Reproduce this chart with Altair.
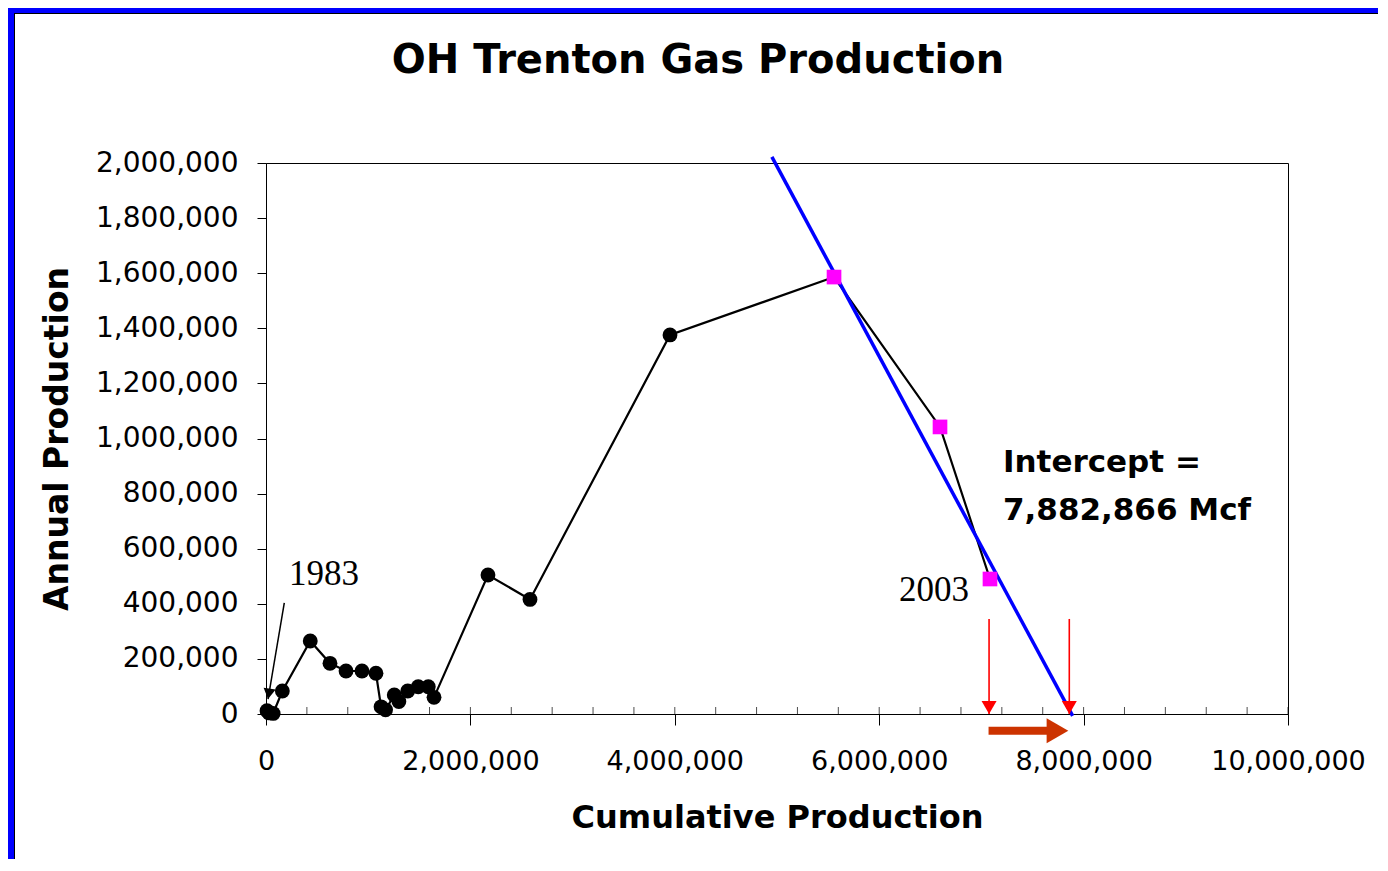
import altair as alt
import pandas as pd

# ---------------- data ----------------
cum_prod = [10000, 30000, 70000, 160000, 433000, 626000, 783000, 939000,
            1076000, 1126000, 1170000, 1255000, 1300000, 1387000, 1490000,
            1588000, 1644000, 2172000, 2583000, 3953000, 5558000, 6595000,
            7084000]
annual_prod = [12000, 4000, 2000, 83500, 265000, 184000, 156000, 156000,
               148000, 26000, 15000, 69000, 45000, 83500, 99000, 99000,
               60500, 504500, 416000, 1376000, 1586000, 1042000, 490000]
in_fit = [False] * 20 + [True, True, True]

fit_x = [4950000, 7893000]
fit_y = [2022000, -7000]

x_ticks = [0, 2000000, 4000000, 6000000, 8000000, 10000000]
y_ticks = [0, 200000, 400000, 600000, 800000, 1000000, 1200000, 1400000,
           1600000, 1800000, 2000000]
minor_x_ticks = [400000 * k for k in range(26)]

red_arrow_x = [7075000, 7860000]
red_arrow_top = [345000, 345000]

# annotations (data coordinates)
label_1983 = {"x": 225000, "y": 468000, "t": "1983"}
arrow_1983 = {"x": 179000, "y": 403000, "x2": 20000, "y2": 54000}
label_2003 = {"x": 6879000, "y": 410000, "t": "2003"}
label_int = {"x": 7211000, "y": 878000}
orange_arrow = {"x": 7070000, "x2": 7850000, "y": -60600}

W, H = 1022, 551
PL, PT, PR, PB = 258, 155, 90, 145

df = pd.DataFrame({"i": list(range(len(cum_prod))), "cum": cum_prod,
                   "annual": annual_prod, "fit": in_fit})
hist = df[~df["fit"]]
fitpts = df[df["fit"]]
fit_df = pd.DataFrame({"cum": fit_x, "annual": fit_y})
minor_df = pd.DataFrame({"m": minor_x_ticks})
red_df = pd.DataFrame({"x": red_arrow_x, "top": red_arrow_top,
                       "bottom": [0, 0]})
one = pd.DataFrame({"k": [0]})

xs = alt.Scale(domain=[0, 10000000], nice=False, zero=True)
ys = alt.Scale(domain=[0, 2000000], nice=False, zero=True)

x_axis = alt.Axis(values=x_ticks, format=",d", title="Cumulative Production",
                  tickSize=11, labelPadding=23, titlePadding=28, grid=False,
                  labelFont="DejaVu Sans", labelFontSize=27,
                  titleFont="DejaVu Sans", titleFontSize=32,
                  titleFontWeight="bold", labelColor="black",
                  titleColor="black", tickColor="black", domainColor="black",
                  labelOverlap=False, labelFlush=False)
y_axis = alt.Axis(values=y_ticks, format=",d", title="Annual Production",
                  tickSize=9, labelPadding=19, titlePadding=21, grid=False,
                  labelFont="DejaVu Sans", labelFontSize=28,
                  titleFont="DejaVu Sans", titleFontSize=33,
                  titleFontWeight="bold", labelColor="black",
                  titleColor="black", tickColor="black", domainColor="black",
                  labelOverlap=False, labelFlush=False)

X = lambda f: alt.X(f, type="quantitative", scale=xs, axis=x_axis)
Y = lambda f: alt.Y(f, type="quantitative", scale=ys, axis=y_axis)

line = alt.Chart(df).mark_line(color="black", strokeWidth=2.2).encode(
    x=X("cum"), y=Y("annual"), order="i:Q")

dots = alt.Chart(hist).mark_circle(color="black", size=220, opacity=1).encode(
    x=X("cum"), y=Y("annual"))

squares = alt.Chart(fitpts).mark_square(color="#FF00FF", size=215,
                                        opacity=1).encode(
    x=X("cum"), y=Y("annual"))

fit_line = alt.Chart(fit_df).mark_line(color="#0000FF", strokeWidth=3.5,
                                       clip=False).encode(
    x=X("cum"), y=Y("annual"))

minor = alt.Chart(minor_df).mark_tick(color="black", size=7,
                                      thickness=1).encode(
    x=X("m"), y=alt.value(H - 3.5))

red_shaft = alt.Chart(red_df).mark_rule(color="#FF0000",
                                        strokeWidth=1.6).encode(
    x=X("x"), y=Y("top"), y2=alt.Y2("bottom"))
red_head = alt.Chart(red_df).mark_point(shape="triangle-down", size=225,
                                        filled=True, color="#FF0000",
                                        opacity=1, yOffset=-6.5).encode(
    x=X("x"), y=Y("bottom"))

o_df = pd.DataFrame([orange_arrow])
o_shaft = alt.Chart(o_df).mark_rule(color="#CC3300", strokeWidth=8,
                                    strokeCap="butt", x2Offset=-18).encode(
    x=X("x"), x2=alt.X2("x2"), y=Y("y"))
o_head = alt.Chart(o_df).mark_point(shape="triangle-right", size=625,
                                    filled=True, color="#CC3300", opacity=1,
                                    xOffset=-10.8).encode(
    x=X("x2"), y=Y("y"))

a_df = pd.DataFrame([arrow_1983])
a_shaft = alt.Chart(a_df).mark_rule(color="black", strokeWidth=1.5).encode(
    x=X("x"), x2=alt.X2("x2"), y=Y("y"), y2=alt.Y2("y2"))
a_head = alt.Chart(a_df).mark_point(shape="triangle-down", size=150,
                                    filled=True, color="black", opacity=1,
                                    angle=9, xOffset=0.8, yOffset=-5.3).encode(
    x=X("x2"), y=Y("y2"))

t1983 = alt.Chart(pd.DataFrame([label_1983])).mark_text(
    font="Liberation Serif", fontSize=35, align="left",
    baseline="alphabetic", color="black").encode(
    x=X("x"), y=Y("y"), text="t:N")
t2003 = alt.Chart(pd.DataFrame([label_2003])).mark_text(
    font="Liberation Serif", fontSize=35, align="right",
    baseline="alphabetic", color="black").encode(
    x=X("x"), y=Y("y"), text="t:N")
t_int = alt.Chart(pd.DataFrame([label_int])).mark_text(
    font="DejaVu Sans", fontSize=31, fontWeight="bold", align="left",
    baseline="alphabetic", color="black", lineHeight=48).encode(
    x=X("x"), y=Y("y"),
    text=alt.value(["Intercept =", "7,882,866 Mcf"]))

title = alt.Chart(one).mark_text(
    font="DejaVu Sans", fontSize=40, fontWeight="bold", align="center",
    baseline="alphabetic", color="black").encode(
    x=alt.value(432), y=alt.value(-90),
    text=alt.value("OH Trenton Gas Production"))

# slide frame (blue strip on left and top)
frame_l = alt.Chart(one).mark_rule(color="#0000FF", strokeWidth=6).encode(
    x=alt.value(-PL + 3), y=alt.value(-PT), y2=alt.value(H + PB))
frame_t = alt.Chart(one).mark_rule(color="#0000FF", strokeWidth=5).encode(
    y=alt.value(-PT + 2.5), x=alt.value(-PL), x2=alt.value(W + PR))
frame_l2 = alt.Chart(one).mark_rule(color="black", strokeWidth=1).encode(
    x=alt.value(-PL + 6.5), y=alt.value(-PT + 5), y2=alt.value(H + PB))
frame_t2 = alt.Chart(one).mark_rule(color="black", strokeWidth=1).encode(
    y=alt.value(-PT + 5.5), x=alt.value(-PL + 6), x2=alt.value(W + PR))

chart = alt.layer(
    line, minor, fit_line, dots, squares, red_shaft, red_head, o_shaft,
    o_head, a_shaft, a_head, t1983, t2003, t_int, title,
    frame_l, frame_t, frame_l2, frame_t2
).properties(
    width=W, height=H,
    padding={"left": PL, "top": PT, "right": PR, "bottom": PB},
    autosize=alt.AutoSizeParams(type="none"),
    background="white"
).configure_view(stroke="black", strokeWidth=1)

chart.save("out.html", embed_options={"renderer": "svg", "actions": False})
